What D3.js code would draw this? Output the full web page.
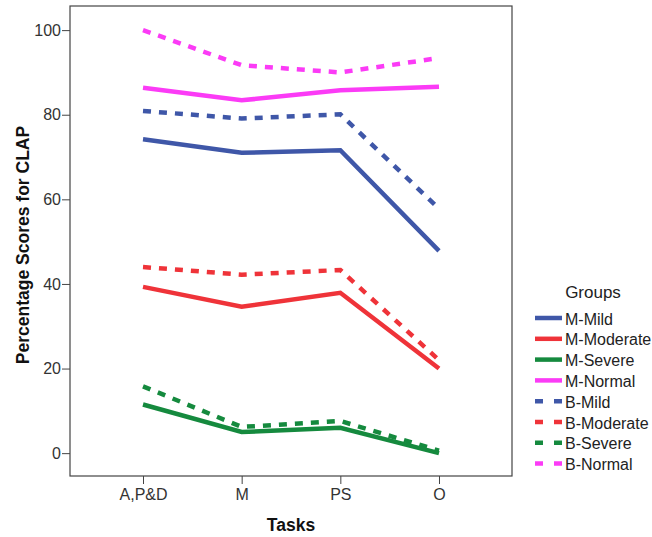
<!DOCTYPE html>
<html>
<head>
<meta charset="utf-8">
<script src="https://cdn.jsdelivr.net/npm/d3@7"></script>
<style>
  body { margin: 0; background: #fff; }
  svg text { font-family: "Liberation Sans", Arial, sans-serif; }
</style>
</head>
<body>
<div id="chart"></div>
<script>
// data -------------------------------------------------------
const tasks = ["A,P&D", "M", "PS", "O"];
const groups = ["M-Mild", "M-Moderate", "M-Severe", "M-Normal", "B-Mild", "B-Moderate", "B-Severe", "B-Normal"];
const mMild = [74.2, 71.0, 71.6, 47.8];
const mModerate = [39.3, 34.6, 37.9, 20.0];
const mSevere = [11.5, 5.0, 6.0, 0.0];
const mNormal = [86.4, 83.4, 85.8, 86.6];
const bMild = [80.9, 79.1, 80.1, 57.8];
const bModerate = [44.0, 42.2, 43.3, 22.0];
const bSevere = [15.8, 6.2, 7.6, 0.6];
const bNormal = [100.0, 91.7, 90.0, 93.4];
const yTicks = [0, 20, 40, 60, 80, 100];

const seriesValues = [mMild, mModerate, mSevere, mNormal, bMild, bModerate, bSevere, bNormal];
const colors = ["#3f57a8", "#ef3339", "#158a3e", "#fb3bf6", "#3f57a8", "#ef3339", "#158a3e", "#fb3bf6"];

const W = 652, H = 537;
const plot = { left: 70, top: 6, right: 512, bottom: 476 };

const svg = d3.select("#chart").append("svg")
  .attr("width", W).attr("height", H);

// scales
const x = d3.scalePoint().domain(tasks).range([plot.left, plot.right]).padding(0.74);
const y = d3.scaleLinear().domain([-5.4, 105.7]).range([plot.bottom, plot.top]);

// frame
svg.append("rect")
  .attr("x", plot.left).attr("y", plot.top)
  .attr("width", plot.right - plot.left).attr("height", plot.bottom - plot.top)
  .attr("fill", "none").attr("stroke", "#444").attr("stroke-width", 1.2);

// y axis
const yAxis = svg.append("g")
  .attr("transform", `translate(${plot.left},0)`)
  .call(d3.axisLeft(y).tickValues(yTicks).tickSize(8).tickPadding(1));
yAxis.select(".domain").remove();
yAxis.selectAll("line").attr("stroke", "#444");
yAxis.selectAll("text").attr("font-size", 16).attr("fill", "#333")
  .attr("font-family", "'Liberation Sans', Arial, sans-serif");

// x axis
const xAxis = svg.append("g")
  .attr("transform", `translate(0,${plot.bottom})`)
  .call(d3.axisBottom(x).tickSize(8).tickPadding(5));
xAxis.select(".domain").remove();
xAxis.selectAll("line").attr("stroke", "#444");
xAxis.selectAll("text").attr("font-size", 16).attr("fill", "#333")
  .attr("font-family", "'Liberation Sans', Arial, sans-serif");

// axis titles
svg.append("text")
  .attr("x", 291).attr("y", 531)
  .attr("text-anchor", "middle").attr("font-size", 17.5).attr("font-weight", "bold")
  .attr("fill", "#111")
  .text("Tasks");

svg.append("text")
  .attr("transform", `translate(29,245) rotate(-90)`)
  .attr("text-anchor", "middle").attr("font-size", 17.5).attr("font-weight", "bold")
  .attr("fill", "#111")
  .text("Percentage Scores for CLAP");

// lines
const line = d3.line()
  .x((d, i) => x(tasks[i]))
  .y(d => y(d));

const lines = svg.append("g");
// dotted (B) first, solid (M) on top where they meet
[4, 5, 6, 7, 0, 1, 2, 3].forEach(k => {
  lines.append("path")
    .datum(seriesValues[k])
    .attr("d", line)
    .attr("fill", "none")
    .attr("stroke", colors[k])
    .attr("stroke-width", 4.5)
    .attr("stroke-dasharray", k >= 4 ? "8,8" : null);
});

// legend
const legend = svg.append("g");
legend.append("text")
  .attr("x", 593).attr("y", 298)
  .attr("text-anchor", "middle").attr("font-size", 17).attr("fill", "#222")
  .text("Groups");

const rows = legend.selectAll("g.row")
  .data(groups)
  .enter().append("g")
  .attr("class", "row")
  .attr("transform", (d, i) => `translate(0,${318 + i * 20.8})`);

rows.append("line")
  .attr("x1", 535).attr("x2", 562)
  .attr("y1", 0).attr("y2", 0)
  .attr("stroke", (d, i) => colors[i])
  .attr("stroke-width", 4.5)
  .attr("stroke-dasharray", (d, i) => i >= 4 ? "8,11" : null);

rows.append("text")
  .attr("x", 565).attr("y", 6.5)
  .attr("font-size", 16).attr("fill", "#222")
  .text(d => d);
</script>
</body>
</html>
